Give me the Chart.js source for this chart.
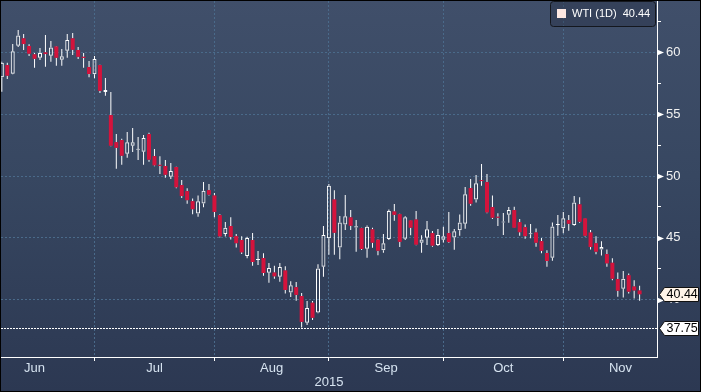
<!DOCTYPE html>
<html>
<head>
<meta charset="utf-8">
<style>
html,body{margin:0;padding:0;background:#000;overflow:hidden;}
#c{display:block;}
</style>
<script src="https://cdn.jsdelivr.net/npm/chart.js@4.4.0/dist/chart.umd.min.js"></script>
</head>
<body>
<canvas id="c" width="701" height="392"></canvas>
<script>
// ---- DATA (daily candles, WTI 1D) ----
const opens = [57.98,58.97,58.27,60.53,61.13,60.51,59.84,59.56,60.00,59.72,60.48,59.40,60.13,61.13,60.19,59.64,58.81,58.22,58.97,56.79,
54.93,52.74,52.91,51.80,52.44,52.12,51.96,53.39,51.61,50.89,50.81,49.94,50.73,49.27,48.78,47.97,46.97,47.78,48.86,48.43,
46.84,45.31,45.96,45.14,44.83,43.53,44.83,43.22,43.37,42.18,42.20,41.86,42.37,40.59,41.02,40.30,38.14,39.76,38.97,42.67,
44.96,48.11,44.22,46.09,46.66,45.84,45.79,44.12,45.69,44.86,44.01,44.91,47.14,46.92,44.93,46.42,46.49,44.61,45.01,45.39,
44.42,44.85,45.39,45.03,45.61,46.14,49.03,48.11,49.68,49.51,47.49,46.71,46.25,46.86,47.25,46.27,45.87,45.29,45.44,44.74,
43.78,43.40,46.04,45.77,46.44,46.04,47.71,46.58,45.44,44.57,44.07,43.69,42.99,41.67,40.89,41.98,41.07,40.75];
const highs = [59.24,59.16,60.67,61.80,61.48,60.65,59.94,60.35,61.40,60.91,60.52,60.27,61.48,61.56,60.43,59.94,59.30,59.70,59.00,57.92,
56.79,53.39,53.01,53.55,53.88,53.15,53.31,53.50,52.18,51.59,51.29,51.05,50.76,49.67,49.02,48.19,48.43,49.51,49.35,48.62,
46.92,46.28,46.67,45.31,45.14,45.09,45.39,43.94,43.75,42.97,42.75,42.97,42.71,41.50,41.43,40.54,39.89,39.89,42.87,45.96,
49.35,48.86,46.76,48.46,47.25,46.44,45.82,46.01,45.82,44.91,45.31,47.30,47.73,46.95,46.74,46.44,47.17,45.21,46.36,45.55,
45.71,45.90,47.09,45.71,46.90,49.11,49.76,50.08,50.97,50.16,48.43,47.00,47.02,47.49,47.51,46.52,46.09,46.12,45.76,44.99,
43.99,46.25,46.84,47.09,46.84,48.38,48.28,46.60,45.63,45.14,44.72,44.07,43.35,42.21,42.32,42.12,41.57,41.13];
const lows = [56.81,57.84,58.22,60.43,60.19,59.70,58.76,59.38,58.83,59.24,58.91,58.91,59.56,59.78,59.46,58.76,57.98,57.90,56.71,56.49,
52.40,50.59,50.91,51.48,51.94,51.29,50.91,51.16,50.80,50.16,49.86,49.75,49.01,48.22,47.75,46.92,46.70,47.47,48.43,46.67,
45.04,45.12,44.87,44.22,43.69,43.35,42.75,42.81,41.94,41.38,41.70,41.45,40.50,40.22,39.92,37.75,37.96,38.36,38.91,41.86,
43.64,43.64,43.27,45.63,45.63,43.88,44.02,43.40,44.20,43.60,43.80,44.83,46.38,44.26,44.83,45.21,44.40,43.80,44.42,44.29,
44.34,44.63,44.60,44.04,45.17,45.74,47.60,47.87,49.21,47.00,46.52,45.97,45.23,46.22,45.80,45.17,44.93,44.98,44.29,43.75,
42.67,43.15,45.17,45.37,45.57,45.98,46.22,45.12,44.07,43.67,43.58,42.67,41.57,40.24,40.19,40.50,40.10,39.92];
const closes = [59.16,58.11,60.08,61.37,60.67,59.89,59.48,59.94,59.86,60.40,59.56,59.68,60.99,60.21,59.64,59.54,58.25,59.46,56.89,56.95,
52.45,52.28,51.64,52.74,52.74,52.18,53.07,51.32,50.86,50.83,50.10,50.40,49.09,48.38,48.05,47.32,47.97,48.81,48.49,47.10,
45.12,45.82,45.07,44.57,43.83,44.99,43.05,43.28,42.16,42.56,41.89,42.64,40.79,41.18,40.39,38.21,39.33,38.54,42.53,45.23,
49.21,45.41,46.25,46.74,45.98,45.94,44.10,45.90,44.61,43.96,44.57,47.18,46.86,44.68,46.66,45.82,44.45,44.87,45.69,44.37,
45.23,45.14,44.66,45.53,46.25,48.52,47.76,49.41,49.59,47.06,46.63,46.63,46.33,47.25,45.82,45.46,45.14,45.37,44.61,43.96,
43.13,45.93,46.12,46.58,46.14,47.86,46.30,45.17,44.26,43.88,44.26,42.94,41.70,40.73,41.70,40.65,40.75,40.44];
const monthNames = ['Jun','Jul','Aug','Sep','Oct','Nov'];
const monthBounds = [-5, 17, 39, 60, 81, 103, 124];   // candle index of month separators
const yMajorTicks = [40, 45, 50, 55, 60];
const yMinorTicks = [42.5, 47.5, 52.5, 57.5, 62.5];
const periodLow = 37.75;
const seriesName = 'WTI (1D)';
const yearLabel = '2015';

// ---- styling ----
const RED = '#d4133c';
const GRID = '#4a6a8a';
const FONT = 'Liberation Sans';
Chart.defaults.font.family = FONT;

const idx = closes.map((_, i) => i);
const isUp = i => i !== undefined && closes[i] >= opens[i];
const bodies = idx.map(i => ({x: i, y: [opens[i], closes[i]]}));
const upperWicks = idx.map(i => ({x: i, y: [Math.max(opens[i], closes[i]), highs[i]]}));
const lowerWicks = idx.map(i => ({x: i, y: [lows[i], Math.min(opens[i], closes[i])]}));

const monthMids = monthNames.map((_, k) => (monthBounds[k] + monthBounds[k + 1]) / 2);
const visibleBounds = monthBounds.slice(1, -1);
const isBound = v => visibleBounds.includes(v);
const lastClose = closes[closes.length - 1];

const decor = {
  id: 'decor',
  beforeDraw(chart) {
    const {ctx, width, height} = chart;
    const g = ctx.createLinearGradient(0, 0, 0, height);
    g.addColorStop(0, '#404f6a');
    g.addColorStop(0.45, '#374761');
    g.addColorStop(1, '#2c3852');
    ctx.save();
    ctx.fillStyle = g;
    ctx.fillRect(0, 0, width, height);
    ctx.restore();
  },
  beforeDatasetsDraw(chart) {
    const {ctx, chartArea: a, scales: {y}} = chart;
    const py = Math.round(y.getPixelForValue(periodLow)) + 0.5;
    ctx.save();
    ctx.strokeStyle = '#ffffff';
    ctx.lineWidth = 1;
    ctx.setLineDash([2, 1]);
    ctx.beginPath();
    ctx.moveTo(a.left, py);
    ctx.lineTo(a.right, py);
    ctx.stroke();
    ctx.restore();
  },
  afterDraw(chart) {
    const {ctx, chartArea: a, scales: {y}, width, height} = chart;
    ctx.save();
    // major tick triangles
    ctx.fillStyle = '#ffffff';
    yMajorTicks.forEach(v => {
      const py = Math.round(y.getPixelForValue(v)) + 0.5;
      ctx.beginPath();
      ctx.moveTo(a.right, py - 3);
      ctx.lineTo(a.right + 7, py);
      ctx.lineTo(a.right, py + 3);
      ctx.closePath();
      ctx.fill();
    });
    // price tags
    const tag = (value, fill) => {
      const py = Math.round(y.getPixelForValue(value)) + 0.5;
      const x0 = a.right + 2.5, xb = a.right + 7.5, x1 = width - 2.5, h = 7;
      ctx.beginPath();
      ctx.moveTo(x0, py);
      ctx.lineTo(xb, py - h);
      ctx.lineTo(x1, py - h);
      ctx.lineTo(x1, py + h);
      ctx.lineTo(xb, py + h);
      ctx.closePath();
      ctx.fillStyle = fill;
      ctx.fill();
      ctx.strokeStyle = '#111111';
      ctx.lineWidth = 1;
      ctx.stroke();
      ctx.fillStyle = '#000000';
      ctx.font = '12.5px "' + FONT + '"';
      ctx.textAlign = 'left';
      ctx.textBaseline = 'middle';
      ctx.fillText(value.toFixed(2), a.right + 9.5, py + 0.5);
    };
    tag(periodLow, '#ffffff');
    tag(lastClose, '#fff4e8');
    // legend box
    const bx = a.right - 106.5, by = 1.5, bw = 105, bh = 25;
    ctx.beginPath();
    if (ctx.roundRect) ctx.roundRect(bx, by, bw, bh, 3); else ctx.rect(bx, by, bw, bh);
    ctx.fillStyle = 'rgba(35,44,62,0.35)';
    ctx.fill();
    ctx.strokeStyle = '#14171e';
    ctx.lineWidth = 1;
    ctx.stroke();
    ctx.fillStyle = '#fde8e3';
    ctx.fillRect(bx + 6.5, by + 7.5, 9, 9);
    ctx.fillStyle = '#ffffff';
    ctx.font = '11px "' + FONT + '"';
    ctx.textAlign = 'left';
    ctx.textBaseline = 'middle';
    ctx.fillText(seriesName + '  ' + lastClose.toFixed(2), bx + 21.5, by + 12.5);
    // outer frame
    ctx.strokeStyle = '#000000';
    ctx.strokeRect(0.5, 0.5, width - 1, height - 1);
    ctx.restore();
  }
};

new Chart(document.getElementById('c'), {
  type: 'bar',
  data: {
    datasets: [
      {
        data: bodies, order: 0, grouped: false, barThickness: 4, minBarLength: 1, inflateAmount: 0,
        borderSkipped: false,
        backgroundColor: c => isUp(c.dataIndex) ? 'rgba(0,0,0,0)' : RED,
        borderColor: c => isUp(c.dataIndex) ? '#ffffff' : RED,
        borderWidth: c => isUp(c.dataIndex) ? 1 : 0
      },
      { data: upperWicks, order: 1, grouped: false, barThickness: 1, inflateAmount: 0, borderWidth: 0, backgroundColor: '#ffffff' },
      { data: lowerWicks, order: 1, grouped: false, barThickness: 1, inflateAmount: 0, borderWidth: 0, backgroundColor: '#ffffff' }
    ]
  },
  options: {
    responsive: false,
    animation: false,
    events: [],
    layout: {padding: {left: 1, top: 1, right: 0, bottom: 0}},
    plugins: {legend: {display: false}, tooltip: {enabled: false}},
    scales: {
      x: {
        type: 'linear', min: -0.152, max: 120.19, offset: false, bounds: 'data',
        afterBuildTicks: s => { s.ticks = visibleBounds.concat(monthMids).sort((p, q) => p - q).map(v => ({value: v})); },
        afterFit: s => { s.height = 35; s.paddingLeft = 0; s.paddingRight = 0; },
        grid: {
          offset: false, lineWidth: 1, tickLength: 4, drawTicks: true,
          color: c => (c.tick && isBound(c.tick.value)) ? GRID : 'rgba(0,0,0,0)',
          tickColor: c => (c.tick && isBound(c.tick.value)) ? '#ffffff' : 'rgba(0,0,0,0)'
        },
        border: {display: true, color: '#ffffff', width: 1, dash: [2, 2]},
        ticks: {
          autoSkip: false, maxRotation: 0, padding: 0, color: '#d6e3f0', font: {size: 13},
          callback: v => { const k = monthMids.indexOf(v); return k >= 0 ? monthNames[k] : ''; }
        },
        title: {display: true, text: yearLabel, color: '#d6e3f0', font: {size: 13}, padding: {top: 0, bottom: 2}}
      },
      y: {
        type: 'linear', position: 'right', min: 35.37, max: 64.15, beginAtZero: false, bounds: 'data',
        afterBuildTicks: s => { s.ticks = yMajorTicks.concat(yMinorTicks).sort((p, q) => p - q).map(v => ({value: v})); },
        afterFit: s => { s.width = 44; s.paddingTop = 0; s.paddingBottom = 0; },
        grid: {
          lineWidth: 1, tickLength: 4, drawTicks: true,
          color: c => (c.tick && yMajorTicks.includes(c.tick.value)) ? GRID : 'rgba(0,0,0,0)',
          tickColor: c => (c.tick && yMinorTicks.includes(c.tick.value)) ? '#ffffff' : 'rgba(0,0,0,0)'
        },
        border: {display: true, color: '#ffffff', width: 1, dash: [2, 2]},
        ticks: {
          autoSkip: false, padding: 5, color: '#f2f2f2', font: {size: 13},
          callback: v => yMajorTicks.includes(v) ? String(v) : ''
        }
      }
    }
  },
  plugins: [decor]
});
</script>
</body>
</html>
